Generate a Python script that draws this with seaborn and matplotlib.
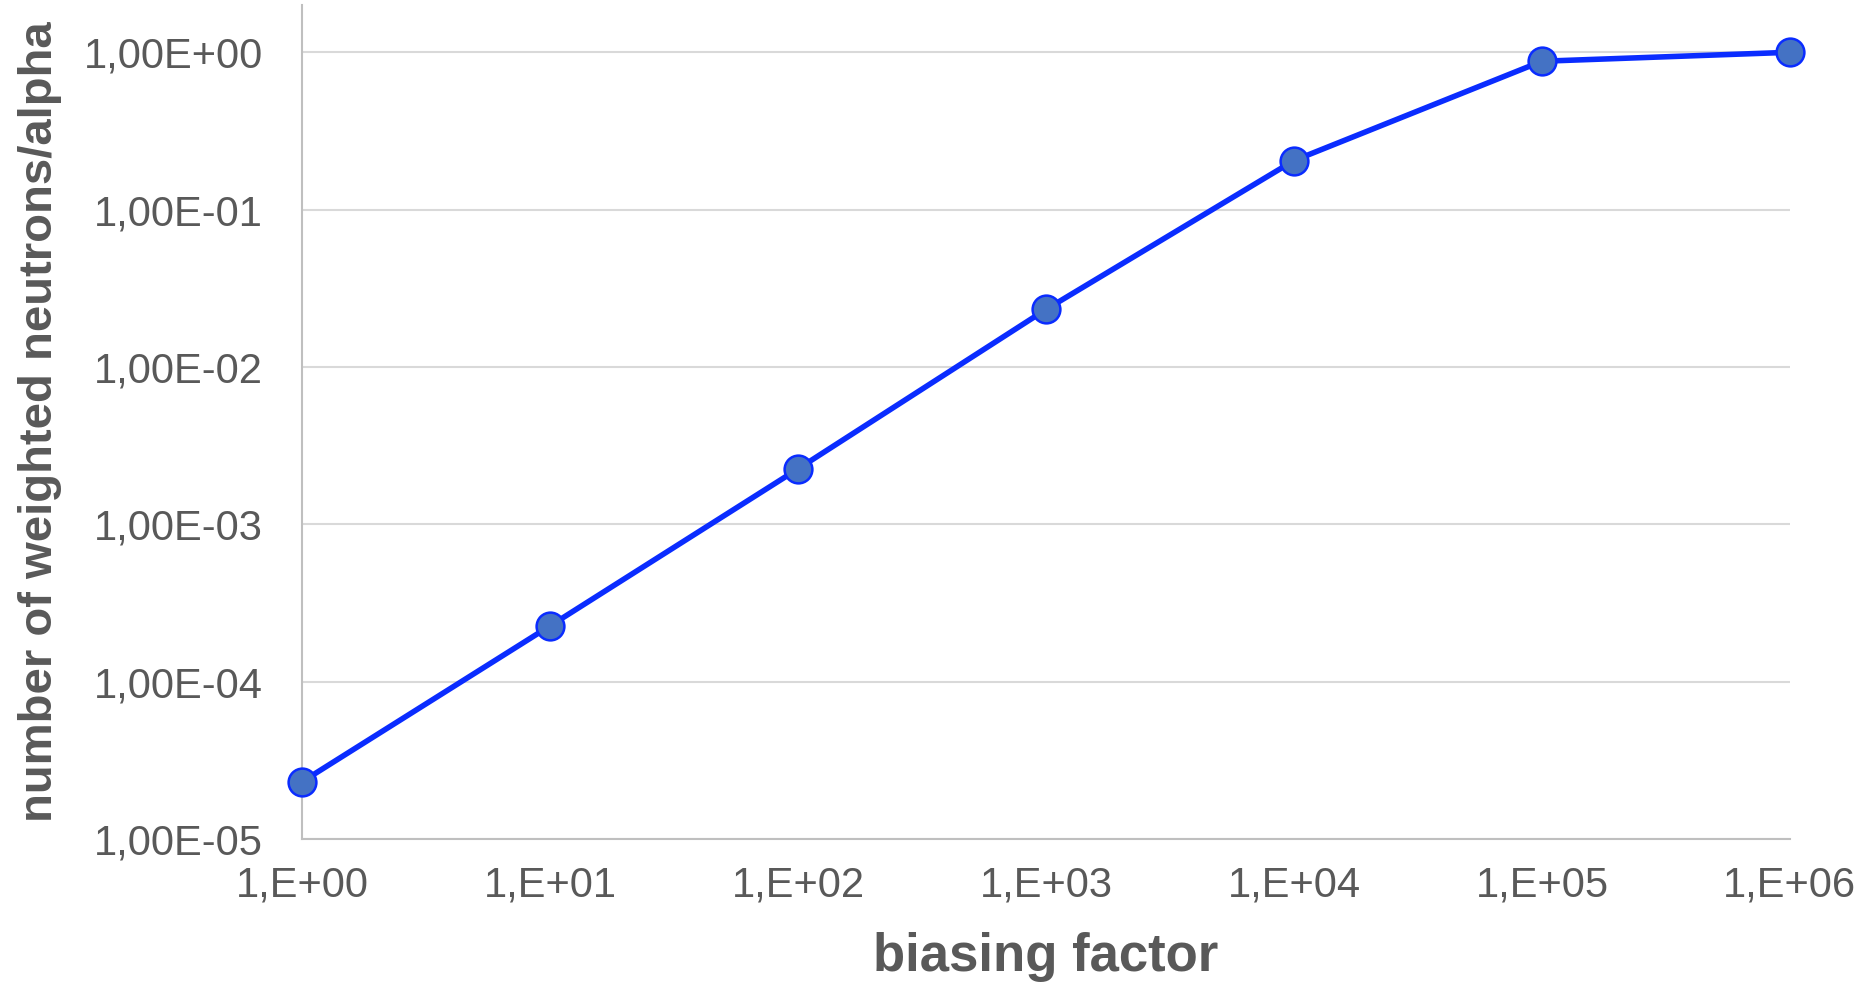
import matplotlib
matplotlib.use('Agg')
import pandas as pd
import matplotlib.pyplot as plt
import seaborn as sns

# values
biasing_factor = [1e0, 1e1, 1e2, 1e3, 1e4, 1e5, 1e6]
neutrons_per_alpha = [2.31e-5, 2.26e-4, 2.25e-3, 2.32e-2, 2.05e-1, 8.77e-1, 1.0]
x_tick_labels = ['1,E+00', '1,E+01', '1,E+02', '1,E+03', '1,E+04', '1,E+05', '1,E+06']
y_ticks = [1e-5, 1e-4, 1e-3, 1e-2, 1e-1, 1e0]
y_tick_labels = ['1,00E-05', '1,00E-04', '1,00E-03', '1,00E-02', '1,00E-01', '1,00E+00']

df = pd.DataFrame({'factor': biasing_factor, 'value': neutrons_per_alpha})

sns.set_style('white')
plt.rcParams['font.family'] = ['Liberation Sans', 'DejaVu Sans']

text_grey = '#595959'

fig = plt.figure(figsize=(18.68, 9.84), dpi=100)
ax = fig.add_axes([0.1617, 0.1474, 0.7965, 0.8476])

sns.lineplot(
    data=df,
    x='factor',
    y='value',
    ax=ax,
    color='#0a2cff',
    linewidth=4,
    marker='o',
    markersize=20,
    markerfacecolor='#4472c4',
    markeredgecolor='#0a2cff',
    markeredgewidth=1.8,
    clip_on=False,
    zorder=5,
)

ax.set_xscale('log')
ax.set_yscale('log')
ax.set_xlim(1, 1e6)
ax.set_ylim(1e-5, 2)

ax.set_xticks(biasing_factor)
ax.set_xticklabels(x_tick_labels)
ax.set_yticks(y_ticks)
ax.set_yticklabels(y_tick_labels)
ax.minorticks_off()
ax.tick_params(axis='x', length=0, pad=19, labelsize=30, labelcolor=text_grey)
ax.tick_params(axis='y', length=0, pad=28, labelsize=30, labelcolor=text_grey)

ax.grid(axis='y', color='#d9d9d9', linewidth=1.5)
ax.grid(axis='x', visible=False)

for side in ['top', 'right']:
    ax.spines[side].set_visible(False)
for side in ['left', 'bottom']:
    ax.spines[side].set_color('#bfbfbf')
    ax.spines[side].set_linewidth(1.5)

ax.set_xlabel('biasing factor', fontsize=38, fontweight='bold', color=text_grey, labelpad=19)
ax.set_ylabel('number of weighted neutrons/alpha', fontsize=34, fontweight='bold',
              color=text_grey, labelpad=16)

fig.savefig('out.png', dpi=100)
